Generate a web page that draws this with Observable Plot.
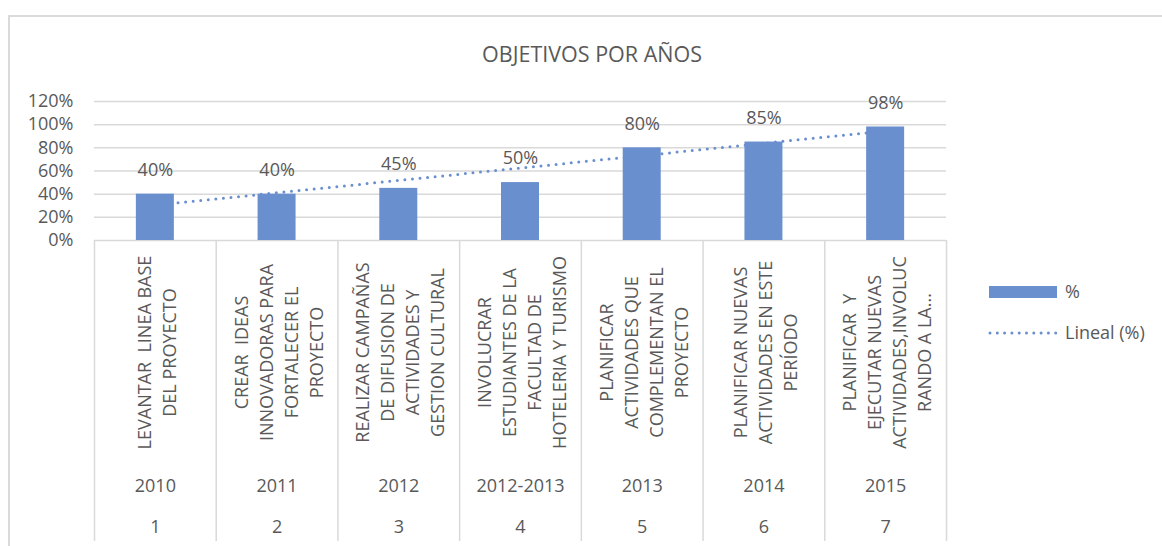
<!DOCTYPE html>
<html>
<head>
<meta charset="utf-8">
<script src="https://cdn.jsdelivr.net/npm/d3@7"></script>
<script src="https://cdn.jsdelivr.net/npm/@observablehq/plot@0.6"></script>
<style>
  body { margin: 0; background: #fff; font-family: "Open Sans", sans-serif; color: #595959; }
  #wrap { position: relative; width: 1162px; height: 546px; overflow: hidden; background: #fff; }
  #border { position: absolute; left: 8px; top: 15px; width: 1170px; height: 560px;
            border-left: 2px solid #dadada; border-top: 2px solid #dadada; box-sizing: border-box; }
  #chart { position: absolute; left: 0; top: 0; }
  #title { position: absolute; left: 592px; top: 39px; transform: translateX(-50%);
           font-size: 21.5px; line-height: 30px; white-space: nowrap; color: #595959; }
  .leg { position: absolute; font-size: 18px; line-height: 24px; white-space: nowrap; color: #595959; }
  #sw { position: absolute; left: 989px; top: 286px; width: 68px; height: 12px; background: #6a8fcf; }
  #dl { position: absolute; left: 986px; top: 327px; }
</style>
</head>
<body>
<div id="wrap">
  <div id="border"></div>
  <div id="chart"></div>
  <div id="title">OBJETIVOS POR AÑOS</div>
  <div id="sw"></div>
  <div class="leg" style="left:1065px; top:279px;">%</div>
  <svg id="dl" width="74" height="12"><line x1="4" y1="6" x2="70" y2="6" stroke="#6a8fcf" stroke-width="3" stroke-linecap="round" stroke-dasharray="0,7.3"/></svg>
  <div class="leg" style="left:1065px; top:320px;">Lineal (%)</div>
</div>
<script>
// ---- data ----
const indices = ["1", "2", "3", "4", "5", "6", "7"];
const years = ["2010", "2011", "2012", "2012-2013", "2013", "2014", "2015"];
const objectives = [
  "LEVANTAR  LINEA BASE\nDEL PROYECTO",
  "CREAR  IDEAS\nINNOVADORAS PARA\nFORTALECER EL\nPROYECTO",
  "REALIZAR CAMPAÑAS\nDE DIFUSION DE\nACTIVIDADES Y\nGESTION CULTURAL",
  "INVOLUCRAR\nESTUDIANTES DE LA\nFACULTAD DE\nHOTELERIA Y TURISMO",
  "PLANIFICAR\nACTIVIDADES QUE\nCOMPLEMENTAN EL\nPROYECTO",
  "PLANIFICAR NUEVAS\nACTIVIDADES EN ESTE\nPERÍODO",
  "PLANIFICAR  Y\nEJECUTAR NUEVAS\nACTIVIDADES,INVOLUC\nRANDO A LA..."
];
const values = [0.40, 0.40, 0.45, 0.50, 0.80, 0.85, 0.98];
const yTicks = [0, 0.2, 0.4, 0.6, 0.8, 1.0, 1.2];

// ---- derived table ----
const rows = indices.map((k, i) => ({ k, n: i + 1, year: years[i], label: objectives[i], v: values[i] }));

// linear trendline (least squares over category number), like Excel "Lineal"
const mx = d3.mean(rows, d => d.n), my = d3.mean(rows, d => d.v);
const slope = d3.sum(rows, d => (d.n - mx) * (d.v - my)) / d3.sum(rows, d => (d.n - mx) ** 2);
const trend = rows.map(d => ({ k: d.k, t: my + slope * (d.n - mx) }));

const W = 1162, H = 546, ML = 94, MR = 216, MT = 101, MB = 306;
const bw = (W - ML - MR) / indices.length;
const barW = 38;
const color = "#6a8fcf", textColor = "#595959", gridColor = "#d9d9d9";

const chart = Plot.plot({
  width: W, height: H,
  marginLeft: ML, marginRight: MR, marginTop: MT, marginBottom: MB,
  style: { fontFamily: "Open Sans, sans-serif", fontSize: "18px", color: textColor, background: "transparent", overflow: "visible" },
  x: { domain: indices, padding: 0, round: false, axis: null },
  y: { domain: [0, 1.2], ticks: yTicks, tickFormat: d3.format(".0%"), tickSize: 0, tickPadding: 21, label: null },
  marks: [
    Plot.ruleY(yTicks, { stroke: gridColor, strokeWidth: 1.5 }),
    Plot.barY(rows, { x: "k", y: "v", fill: color, insetLeft: (bw - barW) / 2, insetRight: (bw - barW) / 2 }),
    Plot.line(trend, { x: "k", y: "t", stroke: color, strokeWidth: 3, strokeLinecap: "round", strokeDasharray: "0,7.6" }),
    Plot.text(rows, { x: "k", y: "v", text: d => d3.format(".0%")(d.v), dy: -24, lineAnchor: "middle", fontSize: 18, fill: textColor }),
    // category table lines
    Plot.ruleX(indices, { x: d => d, dx: -bw / 2, stroke: gridColor, strokeWidth: 1.5, insetTop: (H - MB - MT), insetBottom: -301 }),
    Plot.ruleX(indices.slice(-1), { x: d => d, dx: bw / 2, stroke: gridColor, strokeWidth: 1.5, insetTop: (H - MB - MT), insetBottom: -301 }),
    // multi-level category labels
    Plot.text(rows, { x: "k", frameAnchor: "bottom", text: "label", rotate: -90, textAnchor: "middle", lineAnchor: "middle", lineHeight: 1.39, dy: 112, fontSize: 18, fill: textColor }),
    Plot.text(rows, { x: "k", frameAnchor: "bottom", text: "year", lineAnchor: "middle", dy: 246, fontSize: 18, fill: textColor }),
    Plot.text(rows, { x: "k", frameAnchor: "bottom", text: "k", lineAnchor: "middle", dy: 287, fontSize: 18, fill: textColor })
  ]
});
document.getElementById("chart").appendChild(chart);
</script>
</body>
</html>
